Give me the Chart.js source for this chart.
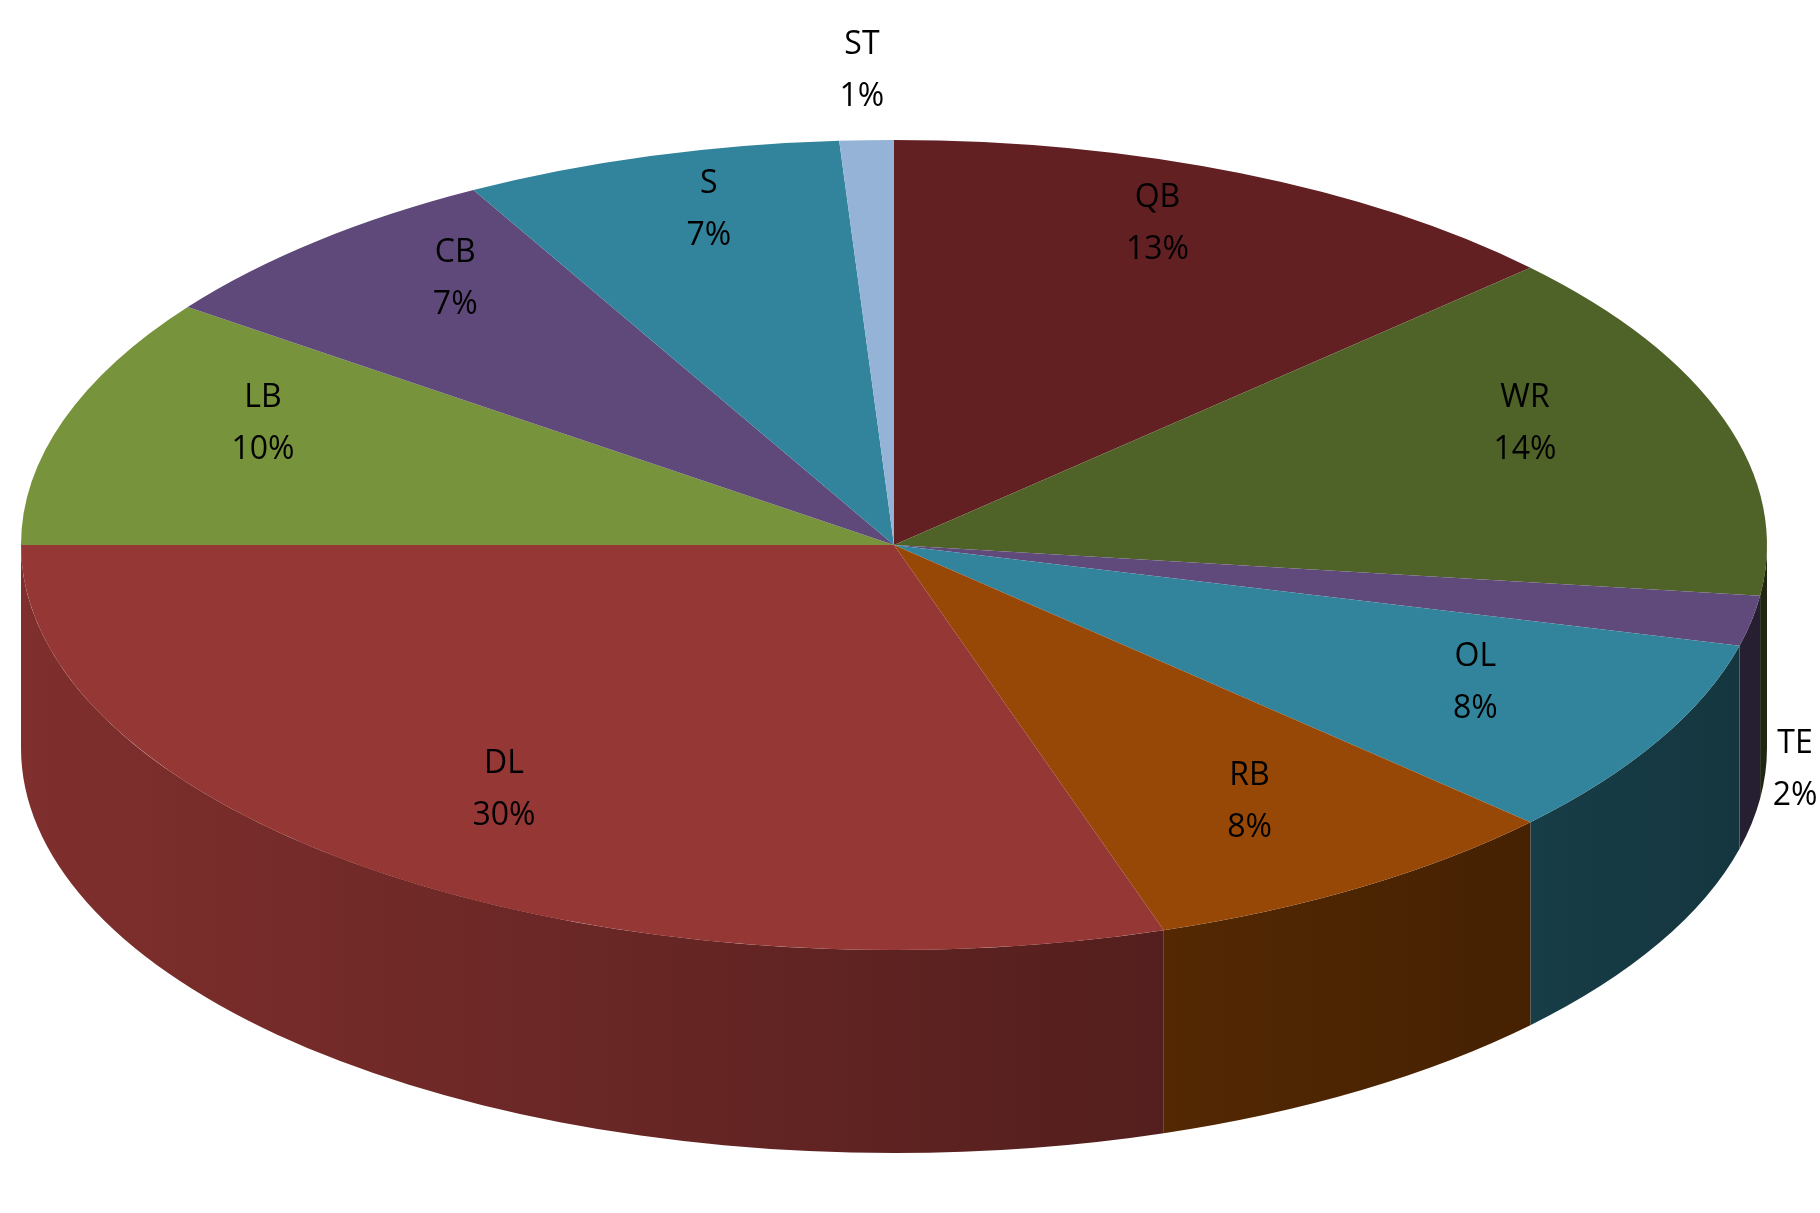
<!DOCTYPE html>
<html>
<head>
<meta charset="UTF-8">
<script src="https://cdn.jsdelivr.net/npm/chart.js"></script>
<style>
  html, body { margin: 0; padding: 0; background: #fff; }
  #wrap { width: 1820px; height: 1213px; }
</style>
</head>
<body>
<div id="wrap"><canvas id="pie" width="1820" height="1213"></canvas></div>
<script>
const positions = ['QB', 'WR', 'TE', 'OL', 'RB', 'DL', 'LB', 'CB', 'S', 'ST'];
const shares = [13, 14, 2, 8, 8, 30, 10, 7, 7, 1];
const colors = ['#632023', '#4f6228', '#604a7b', '#31849b', '#974806', '#953735', '#77933c', '#5f497a', '#31849b', '#95b3d7'];
const outside = ['TE', 'ST'];

// ellipse geometry of the tilted pie
const CX = 894, CY = 545, RX = 873, RY = 405, DEPTH = 203;

function shade(hex, f) {
  const n = parseInt(hex.slice(1), 16);
  const r = Math.round(((n >> 16) & 255) * f), g = Math.round(((n >> 8) & 255) * f), b = Math.round((n & 255) * f);
  return `rgb(${r},${g},${b})`;
}

const tilt = {
  id: 'tilt',
  beforeDatasetsDraw(chart) {
    const ctx = chart.ctx;
    const meta = chart.getDatasetMeta(0);
    // side walls (front half only)
    meta.data.forEach((arc, i) => {
      const s = arc.startAngle, e = arc.endAngle;
      [[0, Math.PI], [2 * Math.PI, 3 * Math.PI], [-2 * Math.PI, -Math.PI]].forEach(([lo, hi]) => {
        const a0 = Math.max(s, lo), a1 = Math.min(e, hi);
        if (a1 <= a0) return;
        const g = ctx.createLinearGradient(CX - RX, 0, CX + RX, 0);
        g.addColorStop(0, shade(colors[i], 0.85));
        g.addColorStop(1, shade(colors[i], 0.4));
        ctx.beginPath();
        ctx.ellipse(CX, CY, RX, RY, 0, a0, a1);
        ctx.ellipse(CX, CY + DEPTH, RX, RY, 0, a1, a0, true);
        ctx.closePath();
        ctx.fillStyle = g;
        ctx.fill();
      });
    });
    const a = meta.data[0];
    ctx.save();
    ctx.translate(CX, CY);
    ctx.scale(RX / a.outerRadius, RY / a.outerRadius);
    ctx.translate(-a.x, -a.y);
  },
  afterDatasetsDraw(chart) {
    const ctx = chart.ctx;
    ctx.restore();
    const meta = chart.getDatasetMeta(0);
    ctx.save();
    ctx.font = '32px "Open Sans", sans-serif';
    ctx.textAlign = 'center';
    ctx.textBaseline = 'middle';
    ctx.fillStyle = '#000';
    meta.data.forEach((arc, i) => {
      const m = (arc.startAngle + arc.endAngle) / 2;
      const out = outside.includes(positions[i]);
      const f = out ? 1.17 : 0.76;
      let x = CX + RX * f * Math.cos(m);
      let y = CY + RY * f * Math.sin(m) + (out ? 0 : 20 * Math.sin(m) - 20);
      if (positions[i] === 'TE') { x = 1795; y = 770; }
      ctx.fillText(positions[i], x, y - 26);
      ctx.fillText(shares[i] + '%', x, y + 26);
    });
    ctx.restore();
  }
};

new Chart(document.getElementById('pie'), {
  type: 'pie',
  data: {
    labels: positions,
    datasets: [{ data: shares, backgroundColor: colors, borderWidth: 0 }]
  },
  options: {
    responsive: false,
    animation: false,
    layout: { padding: { left: 0, right: 32, top: 0, bottom: 102 } },
    plugins: { legend: { display: false }, tooltip: { enabled: false } }
  },
  plugins: [tilt]
});
</script>
</body>
</html>
